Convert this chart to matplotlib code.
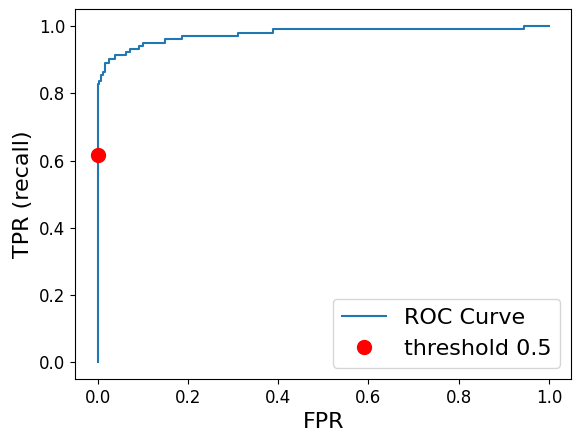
"""ROC curve with the default 0.5 threshold marked."""

import matplotlib
matplotlib.use("Agg")
import matplotlib.pyplot as plt

# corner points of the ROC curve
fpr = [0.0, 0.0, 0.004, 0.004, 0.008, 0.008, 0.013, 0.013, 0.016, 0.016,
       0.026, 0.026, 0.039, 0.039, 0.063, 0.063, 0.071, 0.071, 0.092, 0.092,
       0.101, 0.101, 0.149, 0.149, 0.188, 0.188, 0.311, 0.311, 0.389, 0.389,
       0.944, 0.944, 1.0]
tpr = [0.0, 0.828, 0.828, 0.838, 0.838, 0.854, 0.854, 0.864, 0.864, 0.891,
       0.891, 0.902, 0.902, 0.913, 0.913, 0.922, 0.922, 0.932, 0.932, 0.942,
       0.942, 0.951, 0.951, 0.961, 0.961, 0.971, 0.971, 0.981, 0.981, 0.990,
       0.990, 1.0, 1.0]

# point for threshold 0.5
thr_fpr = [0.0]
thr_tpr = [0.618]

fig = plt.figure(figsize=(5.8, 4.42), dpi=100)
ax = fig.add_axes([0.1293, 0.1425, 0.856, 0.8364])

ax.plot(fpr, tpr, label="ROC Curve")
ax.plot(thr_fpr, thr_tpr, "o", color="red", markersize=10, label="threshold 0.5")

ax.set_xlabel("FPR", fontsize=16)
ax.set_ylabel("TPR (recall)", fontsize=16)
ax.tick_params(labelsize=12)
ax.legend(loc="lower right", fontsize=16)

fig.savefig("out.png", dpi=100)
